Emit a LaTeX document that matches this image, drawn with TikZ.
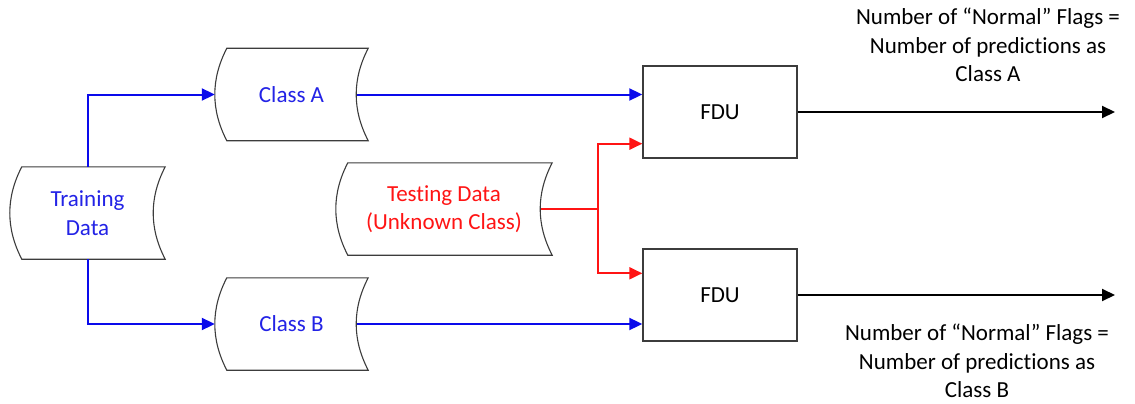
\documentclass[tikz,border=0pt]{standalone}
\usepackage{fontspec}
\setmainfont{Carlito}[Ligatures=NoCommon]
\usetikzlibrary{positioning,arrows.meta,calc}

\definecolor{lineblue}{RGB}{10,10,235}
\definecolor{textblue}{RGB}{35,35,230}
\definecolor{linered}{RGB}{255,20,20}
\definecolor{edge}{RGB}{60,60,60}

\tikzset{
  store/.style={minimum width=153pt, minimum height=92pt, align=center, inner sep=0pt},
  storeline/.style={draw=edge, line width=1.1pt},
  fdubox/.style={draw=edge, line width=1.4pt, minimum width=154pt, minimum height=92pt, fill=white},
  flow/.style={line width=2pt, -{Triangle[length=13pt,width=12pt]}},
  note/.style={align=center}
}

\begin{document}
\begin{tikzpicture}[x=1pt,y=-1pt,font=\fontsize{23pt}{28.5pt}\selectfont]
  \useasboundingbox[fill=white] (0,0) rectangle (1135,404);

  % data stores (outline drawn below)
  \node[store, minimum width=155pt, text=textblue] (train) at (87.5,213) {Training\\Data};
  \node[store, text=textblue] (classA) at (291.5,94.5) {Class A};
  \node[store, text=textblue] (classB) at (291.5,324) {Class B};
  \node[store, minimum width=216pt, text=linered] (test) at (444,209) {Testing Data\\(Unknown Class)};

  % curved left/right sides of the data stores
  \foreach \n in {train,classA,classB,test}{
    \draw[storeline] ($(\n.north west)+(12,0)$) -- (\n.north east)
      .. controls ($(\n.north east)!1/3!(\n.south east)+(-16,0)$) and ($(\n.north east)!2/3!(\n.south east)+(-16,0)$) .. (\n.south east)
      -- ($(\n.south west)+(12,0)$)
      .. controls ($(\n.north west)!2/3!(\n.south west)+(-4,0)$) and ($(\n.north west)!1/3!(\n.south west)+(-4,0)$) .. cycle;
  }

  % detectors
  \node[fdubox] (fdu1) at (720,112) {FDU};
  \node[fdubox] (fdu2) at (720,295) {FDU};

  % outputs
  \coordinate (endA) at (1115,112);
  \coordinate (endB) at (1115,295);
  \node[note] (outA) at (988,45) {Number of “Normal” Flags =\\Number of predictions as\\Class A};
  \node[note] (outB) at (977,361) {Number of “Normal” Flags =\\Number of predictions as\\Class B};

  % training split
  \draw[flow, lineblue] (train.north) |- (classA.west);
  \draw[flow, lineblue] (train.south) |- (classB.west);
  \draw[flow, lineblue] ($(classA.east)+(-11,0)$) -- (classA.east -| fdu1.west);
  \draw[flow, lineblue] ($(classB.east)+(-11,0)$) -- (classB.east -| fdu2.west);

  % testing data to both detectors
  \coordinate (split) at (598,209);
  \draw[line width=2pt, linered] ($(test.east)+(-11,0)$) -- (split);
  \draw[flow, linered] (split) |- ($(fdu1.south west)+(0,-15)$);
  \draw[flow, linered] (split) |- ($(fdu2.north west)+(0,25)$);

  \draw[flow, black] (fdu1.east) -- (endA);
  \draw[flow, black] (fdu2.east) -- (endB);
\end{tikzpicture}
\end{document}
